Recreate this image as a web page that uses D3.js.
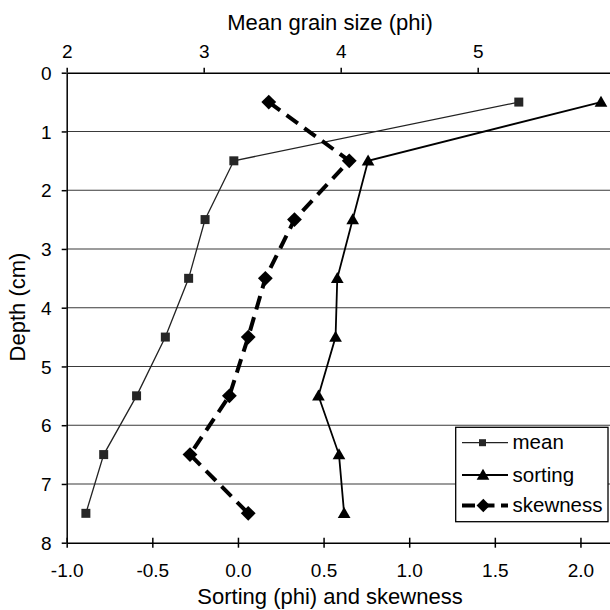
<!DOCTYPE html>
<html>
<head>
<meta charset="utf-8">
<script src="https://cdn.jsdelivr.net/npm/d3@7"></script>
<style>
  body { margin: 0; background: #fff; }
  svg { display: block; font-family: "Liberation Sans", Arial, Helvetica, sans-serif; }
</style>
</head>
<body>
<svg id="chart"></svg>
<script>
// data
var depth    = [0.5, 1.5, 2.5, 3.5, 4.5, 5.5, 6.5, 7.5];
var mean     = [5.30, 3.22, 3.01, 2.89, 2.72, 2.51, 2.27, 2.14];
var sorting  = [2.12, 0.76, 0.67, 0.58, 0.57, 0.47, 0.59, 0.62];
var skewness = [0.18, 0.65, 0.33, 0.16, 0.06, -0.05, -0.28, 0.06];

var topTicks    = [2, 3, 4, 5, 6];
var bottomTicks = [-1.0, -0.5, 0.0, 0.5, 1.0, 1.5, 2.0];
var depthTicks  = [0, 1, 2, 3, 4, 5, 6, 7, 8];
var gridDepths  = [1, 2, 3, 4, 5, 6, 7];

var svg = d3.select("#chart")
    .attr("width", 610)
    .attr("height", 610);

svg.append("rect").attr("width", 610).attr("height", 610).attr("fill", "#fff");

var mLeft = 66.7, mTop = 72.7, width = 548, height = 470;

var xTop = d3.scaleLinear().domain([2, 6]).range([0, width]);
var xBot = d3.scaleLinear().domain([-1, 2.2]).range([0, width]);
var y = d3.scaleLinear().domain([0, 8]).range([0, height]);

var g = svg.append("g")
    .attr("transform", "translate(" + mLeft + "," + mTop + ")");

// horizontal grid lines
g.selectAll(".grid")
    .data(gridDepths)
    .enter()
    .append("line")
    .attr("class", "grid")
    .attr("x1", 0)
    .attr("x2", width)
    .attr("y1", function(d) { return y(d); })
    .attr("y2", function(d) { return y(d); })
    .style("stroke", "#3a3a3a")
    .style("stroke-width", 1.1);

// axes
var topAxis = g.append("g")
    .call(d3.axisTop(xTop).tickValues(topTicks).tickSize(5).tickSizeOuter(0).tickFormat(d3.format("d")));
topAxis.selectAll("text").attr("y", -14.4).attr("dy", null).style("font-size", "19px");

var botAxis = g.append("g")
    .attr("transform", "translate(0," + height + ")")
    .call(d3.axisBottom(xBot).tickValues(bottomTicks).tickSize(5).tickSizeOuter(0)
        .tickFormat(function(d) { return d3.format(".1f")(d).replace("\u2212", "-"); }));
botAxis.selectAll(".tick line").attr("y1", -5).attr("y2", 5);
botAxis.selectAll("text").attr("y", 34).attr("dy", null).style("font-size", "19px");

var leftAxis = g.append("g")
    .call(d3.axisLeft(y).tickValues(depthTicks).tickSize(5).tickSizeOuter(0).tickFormat(d3.format("d")));
leftAxis.selectAll("text").attr("x", -15).attr("dy", "0.35em").style("font-size", "19px");

[topAxis, botAxis, leftAxis].forEach(function(a) {
    a.selectAll("path, line").style("stroke", "#000").style("stroke-width", 1.5);
    a.selectAll("text").style("fill", "#000");
    a.attr("font-family", null);
});

// axis titles
svg.append("text")
    .attr("x", 330).attr("y", 30)
    .attr("text-anchor", "middle")
    .style("font-size", "22px")
    .text("Mean grain size (phi)");

svg.append("text")
    .attr("x", 330).attr("y", 604)
    .attr("text-anchor", "middle")
    .style("font-size", "22px")
    .text("Sorting (phi) and skewness");

svg.append("text")
    .attr("transform", "translate(25,307)rotate(-90)")
    .attr("text-anchor", "middle")
    .style("font-size", "22px")
    .text("Depth (cm)");

// series
var meanPts = depth.map(function(d, i) { return [xTop(mean[i]), y(d)]; });
var sortPts = depth.map(function(d, i) { return [xBot(sorting[i]), y(d)]; });
var skewPts = depth.map(function(d, i) { return [xBot(skewness[i]), y(d)]; });

var line = d3.line();

g.append("path").attr("d", line(meanPts))
    .style("fill", "none").style("stroke", "#222").style("stroke-width", 1.3);
g.append("path").attr("d", line(sortPts))
    .style("fill", "none").style("stroke", "#000").style("stroke-width", 1.8);
g.append("path").attr("d", line(skewPts))
    .style("fill", "none").style("stroke", "#000").style("stroke-width", 4)
    .style("stroke-dasharray", "14,8");

var sq = d3.symbol().type(d3.symbolSquare).size(81);
var tri = d3.symbol().type(d3.symbolTriangle).size(70);
var dia = d3.symbol().type(d3.symbolSquare).size(110);

g.selectAll(".sq").data(meanPts).enter().append("path")
    .attr("transform", function(d) { return "translate(" + d[0] + "," + d[1] + ")"; })
    .attr("d", sq).style("fill", "#262626");
g.selectAll(".tri").data(sortPts).enter().append("path")
    .attr("transform", function(d) { return "translate(" + d[0] + "," + (d[1] + 1) + ")"; })
    .attr("d", tri).style("fill", "#000");
g.selectAll(".dia").data(skewPts).enter().append("path")
    .attr("transform", function(d) { return "translate(" + d[0] + "," + d[1] + ")rotate(45)"; })
    .attr("d", dia).style("fill", "#000");

// legend
var lg = svg.append("g");
lg.append("rect")
    .attr("x", 455.7).attr("y", 427.3).attr("width", 152.3).attr("height", 94.4)
    .style("fill", "#fff").style("stroke", "#000").style("stroke-width", 1.3);

var legendItems = ["mean", "sorting", "skewness"];
var legendY = [442.7, 475, 505.5];

lg.append("line").attr("x1", 462).attr("x2", 508).attr("y1", legendY[0]).attr("y2", legendY[0])
    .style("stroke", "#222").style("stroke-width", 1.3);
lg.append("path").attr("transform", "translate(482.5," + legendY[0] + ")")
    .attr("d", d3.symbol().type(d3.symbolSquare).size(49)).style("fill", "#262626");

lg.append("line").attr("x1", 462).attr("x2", 508).attr("y1", legendY[1]).attr("y2", legendY[1])
    .style("stroke", "#000").style("stroke-width", 1.8);
lg.append("path").attr("transform", "translate(483," + (legendY[1] + 1) + ")")
    .attr("d", tri).style("fill", "#000");

lg.append("line").attr("x1", 462).attr("x2", 508).attr("y1", legendY[2]).attr("y2", legendY[2])
    .style("stroke", "#000").style("stroke-width", 4).style("stroke-dasharray", "13,6.5");
lg.append("path").attr("transform", "translate(483.3," + legendY[2] + ")rotate(45)")
    .attr("d", d3.symbol().type(d3.symbolSquare).size(90)).style("fill", "#000");

lg.selectAll(".lt").data(legendItems).enter().append("text")
    .attr("x", 512.5)
    .attr("y", function(d, i) { return legendY[i] + 6.5; })
    .style("font-size", "20.5px")
    .text(function(d) { return d; });
</script>
</body>
</html>
